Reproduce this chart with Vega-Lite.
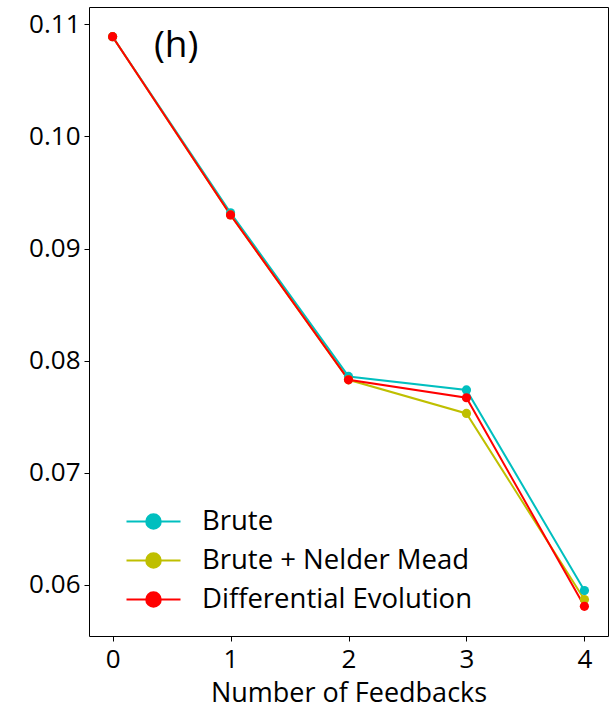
{
  "$schema": "https://vega.github.io/schema/vega-lite/v6.json",
  "autosize": {"type": "none"},
  "padding": {"left": 89, "top": 7, "right": 5, "bottom": 75},
  "width": 519,
  "height": 629,
  "background": "white",
  "config": {
    "font": "Open Sans",
    "view": {"stroke": "#000000", "strokeWidth": 1},
    "axis": {
      "grid": false,
      "domain": false,
      "tickColor": "#000000",
      "tickSize": 5,
      "tickWidth": 1,
      "labelColor": "#000000",
      "labelFontSize": 26,
      "labelFont": "Open Sans",
      "titleFont": "Open Sans",
      "titleColor": "#000000",
      "titleFontSize": 27,
      "titleFontWeight": "normal"
    }
  },
  "datasets": {
    "series": [
      {"feedbacks": 0, "value": 0.1089, "method": "Brute"},
      {"feedbacks": 1, "value": 0.0932, "method": "Brute"},
      {"feedbacks": 2, "value": 0.0786, "method": "Brute"},
      {"feedbacks": 3, "value": 0.0774, "method": "Brute"},
      {"feedbacks": 4, "value": 0.0595, "method": "Brute"},
      {"feedbacks": 0, "value": 0.1089, "method": "Brute + Nelder Mead"},
      {"feedbacks": 1, "value": 0.0930, "method": "Brute + Nelder Mead"},
      {"feedbacks": 2, "value": 0.0783, "method": "Brute + Nelder Mead"},
      {"feedbacks": 3, "value": 0.0753, "method": "Brute + Nelder Mead"},
      {"feedbacks": 4, "value": 0.0587, "method": "Brute + Nelder Mead"},
      {"feedbacks": 0, "value": 0.1089, "method": "Differential Evolution"},
      {"feedbacks": 1, "value": 0.0930, "method": "Differential Evolution"},
      {"feedbacks": 2, "value": 0.0783, "method": "Differential Evolution"},
      {"feedbacks": 3, "value": 0.0767, "method": "Differential Evolution"},
      {"feedbacks": 4, "value": 0.0581, "method": "Differential Evolution"}
    ],
    "panel": [
      {"feedbacks": 0.35, "value": 0.1081, "label": "(h)"}
    ]
  },
  "layer": [
    {
      "data": {"name": "series"},
      "mark": {"type": "line", "strokeWidth": 2, "clip": true},
      "encoding": {
        "x": {
          "field": "feedbacks", "type": "quantitative",
          "scale": {"domain": [-0.2, 4.2], "nice": false, "zero": false},
          "axis": {"values": [0, 1, 2, 3, 4], "format": "d", "title": "Number of Feedbacks", "labelPadding": 5, "titlePadding": 8}
        },
        "y": {
          "field": "value", "type": "quantitative",
          "scale": {"domain": [0.05545, 0.11155], "nice": false, "zero": false},
          "axis": {"values": [0.06, 0.07, 0.08, 0.09, 0.10, 0.11], "format": ".2f", "title": null, "labelPadding": 4}
        },
        "color": {
          "field": "method", "type": "nominal",
          "scale": {
            "domain": ["Brute", "Brute + Nelder Mead", "Differential Evolution"],
            "range": ["#00bfbf", "#bfbf00", "#ff0000"]
          },
          "legend": {
            "title": null,
            "orient": "none",
            "legendX": 50,
            "legendY": 500,
            "labelFontSize": 27.5,
            "labelFont": "Open Sans",
            "labelColor": "#000000",
            "labelLimit": 0,
            "symbolType": "M-2,0H2M-0.54,0A0.54,0.54,0,1,1,0.54,0A0.54,0.54,0,1,1,-0.54,0Z",
            "symbolSize": 729,
            "symbolStrokeWidth": 2,
            "labelOffset": 34,
            "rowPadding": 11,
            "padding": 0,
            "offset": 0
          }
        },
        "order": {"field": "method"}
      }
    },
    {
      "data": {"name": "series"},
      "mark": {"type": "point", "filled": true, "size": 85, "opacity": 1},
      "encoding": {
        "x": {"field": "feedbacks", "type": "quantitative"},
        "y": {"field": "value", "type": "quantitative"},
        "color": {"field": "method", "type": "nominal"}
      }
    },
    {
      "data": {"name": "panel"},
      "mark": {"type": "text", "fontSize": 37, "font": "Open Sans", "color": "#000000", "align": "left", "baseline": "middle"},
      "encoding": {
        "x": {"field": "feedbacks", "type": "quantitative"},
        "y": {"field": "value", "type": "quantitative"},
        "text": {"field": "label"}
      }
    }
  ]
}
